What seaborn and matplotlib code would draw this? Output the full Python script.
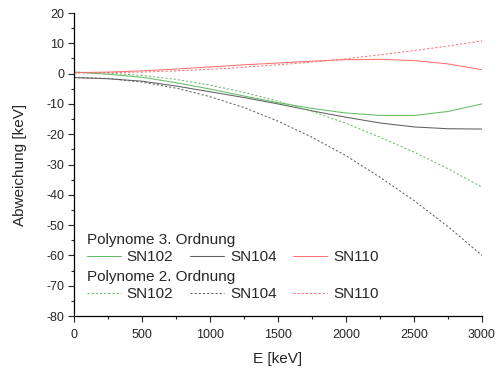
import numpy as np
import pandas as pd
import matplotlib
matplotlib.use("Agg")
import matplotlib.pyplot as plt
import seaborn as sns
from matplotlib.ticker import MultipleLocator

energy = [0, 250, 500, 750, 1000, 1250, 1500, 1750, 2000, 2250, 2500, 2750, 3000]
# Polynome 3. Ordnung
p3_sn102 = [0.5, -0.2, -1.2, -3.0, -5.1, -7.4, -9.6, -11.5, -13.0, -13.8, -13.8, -12.5, -10.0]
p3_sn104 = [-1.3, -1.7, -2.5, -4.1, -6.0, -7.9, -10.0, -12.3, -14.4, -16.3, -17.6, -18.2, -18.3]
p3_sn110 = [0.3, 0.5, 0.9, 1.5, 2.2, 2.9, 3.5, 4.1, 4.6, 4.7, 4.3, 3.2, 1.3]
# Polynome 2. Ordnung
p2_sn102 = [0.5, 0.2, -0.6, -1.9, -3.8, -6.2, -9.1, -12.5, -16.4, -21.0, -25.9, -31.4, -37.5]
p2_sn104 = [-1.3, -1.6, -2.8, -4.8, -7.6, -11.2, -15.7, -21.0, -27.1, -34.2, -41.9, -50.5, -60.0]
p2_sn110 = [0.2, 0.3, 0.5, 0.9, 1.4, 2.1, 2.9, 3.8, 4.9, 6.2, 7.6, 9.1, 10.8]

sensors = ["SN102", "SN104", "SN110"]
colors = {"SN102": "#66bb66", "SN104": "#606060", "SN110": "#ff7070"}

rows = []
for name, vals in zip(sensors, [p3_sn102, p3_sn104, p3_sn110]):
    for e, v in zip(energy, vals):
        rows.append(dict(E=e, dev=v, sensor=name, order="3"))
for name, vals in zip(sensors, [p2_sn102, p2_sn104, p2_sn110]):
    for e, v in zip(energy, vals):
        rows.append(dict(E=e, dev=v, sensor=name, order="2"))
df = pd.DataFrame(rows)

sns.set_style("ticks")
plt.rcParams["font.family"] = ["Liberation Sans", "DejaVu Sans"]
plt.rcParams["axes.unicode_minus"] = False

fig = plt.figure(figsize=(4.98, 3.69), dpi=100)
ax = fig.add_axes([74/498, 1 - 316/369, (482-74)/498, (316-13)/369])

h3, h2 = [], []
for s in sensors:
    d = df[(df.sensor == s) & (df.order == "3")]
    sns.lineplot(data=d, x="E", y="dev", ax=ax, color=colors[s], linewidth=0.75, legend=False)
    h3.append(ax.get_lines()[-1])
for s in sensors:
    d = df[(df.sensor == s) & (df.order == "2")]
    sns.lineplot(data=d, x="E", y="dev", ax=ax, color=colors[s], linewidth=0.75,
                 linestyle=(0, (2, 2)), legend=False)
    h2.append(ax.get_lines()[-1])

ax.set_xlim(0, 3000)
ax.set_ylim(-80, 20)
ax.xaxis.set_major_locator(MultipleLocator(500))
ax.xaxis.set_minor_locator(MultipleLocator(250))
ax.yaxis.set_major_locator(MultipleLocator(10))
ax.yaxis.set_minor_locator(MultipleLocator(5))
ax.tick_params(which="major", direction="out", length=4, width=0.8, labelsize=9)
ax.tick_params(axis="x", which="major", pad=5)
ax.tick_params(axis="y", which="major", pad=3)
ax.tick_params(which="minor", direction="out", length=2, width=0.8)
sns.despine(ax=ax)
for sp in ["left", "bottom"]:
    ax.spines[sp].set_linewidth(0.9)
    ax.spines[sp].set_color("black")
ax.set_xlabel("E [keV]", fontsize=11, labelpad=8)
ax.set_ylabel("Abweichung [keV]", fontsize=11, labelpad=14)

common = dict(ncol=3, frameon=False, fontsize=11, title_fontsize=11, handlelength=2.2,
              handletextpad=0.4, columnspacing=1.1, borderaxespad=0, borderpad=0,
              alignment="left", labelspacing=0.2)
leg1 = ax.legend(h3, sensors, title="Polynome 3. Ordnung",
                 loc="upper left", bbox_to_anchor=(13/408, 1 - (233-13)/303), **common)
ax.add_artist(leg1)
leg2 = ax.legend(h2, sensors, title="Polynome 2. Ordnung",
                 loc="upper left", bbox_to_anchor=(13/408, 1 - (270-13)/303), **common)

fig.savefig("out.png", dpi=100)
